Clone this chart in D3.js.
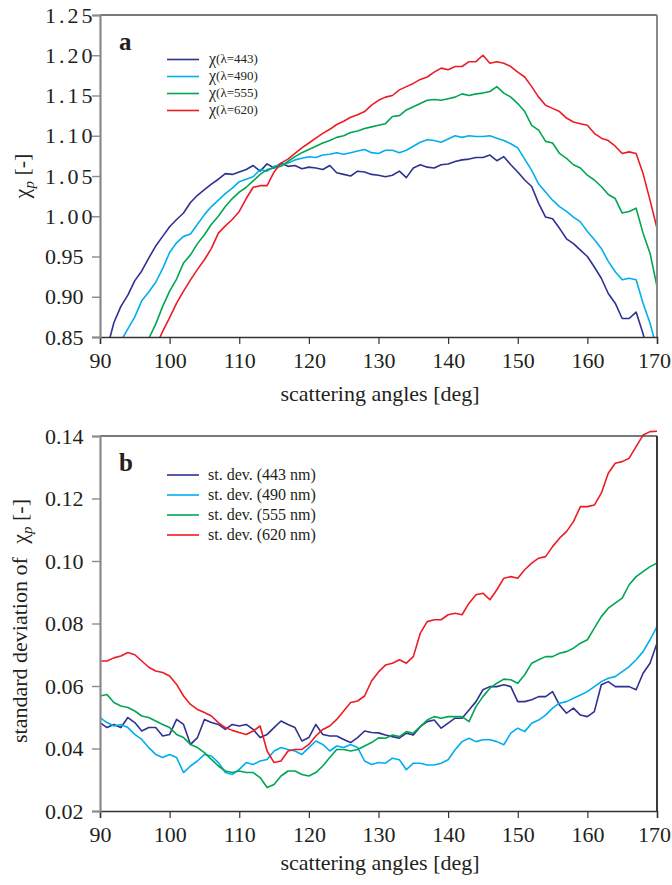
<!DOCTYPE html>
<html><head><meta charset="utf-8">
<script src="https://cdn.jsdelivr.net/npm/d3@7"></script>
<style>
html,body{margin:0;padding:0;background:#fff;}
svg text{font-family:"Liberation Serif","Times New Roman",serif;fill:#231f20;}
</style></head>
<body>
<svg id="chart" width="672" height="885"></svg>
<script>
// ---------- DATA ----------
const angles = [90,91,92,93,94,95,96,97,98,99,100,101,102,103,104,105,106,107,108,109,110,111,112,113,114,115,116,117,118,119,120,121,122,123,124,125,126,127,128,129,130,131,132,133,134,135,136,137,138,139,140,141,142,143,144,145,146,147,148,149,150,151,152,153,154,155,156,157,158,159,160,161,162,163,164,165,166,167,168,169,170];

// panel a: chi_p
const chi443 = [0.800,0.835,0.868,0.888,0.902,0.920,0.932,0.948,0.963,0.975,0.987,0.996,1.004,1.017,1.026,1.033,1.040,1.046,1.053,1.052,1.055,1.058,1.063,1.056,1.065,1.060,1.066,1.062,1.063,1.059,1.061,1.060,1.058,1.063,1.054,1.052,1.050,1.056,1.055,1.052,1.051,1.049,1.051,1.056,1.048,1.060,1.064,1.061,1.060,1.064,1.065,1.068,1.070,1.071,1.073,1.073,1.076,1.069,1.074,1.064,1.055,1.045,1.037,1.016,0.999,0.997,0.985,0.972,0.966,0.958,0.950,0.937,0.923,0.904,0.892,0.873,0.873,0.881,0.854,0.820,0.790];
const chi490 = [0.780,0.810,0.830,0.845,0.860,0.875,0.895,0.906,0.918,0.935,0.955,0.967,0.975,0.978,0.990,1.002,1.012,1.020,1.028,1.035,1.043,1.046,1.049,1.058,1.056,1.062,1.064,1.066,1.070,1.072,1.074,1.073,1.076,1.077,1.079,1.077,1.079,1.081,1.083,1.079,1.078,1.082,1.082,1.079,1.082,1.087,1.092,1.095,1.094,1.092,1.096,1.100,1.098,1.100,1.099,1.099,1.100,1.097,1.094,1.090,1.085,1.071,1.057,1.040,1.030,1.020,1.012,1.006,0.999,0.993,0.981,0.971,0.960,0.944,0.931,0.921,0.923,0.921,0.892,0.867,0.835];
const chi555 = [0.740,0.760,0.780,0.795,0.810,0.825,0.835,0.848,0.866,0.888,0.907,0.922,0.942,0.952,0.966,0.977,0.990,1.000,1.012,1.022,1.030,1.036,1.044,1.052,1.058,1.060,1.062,1.068,1.074,1.079,1.083,1.087,1.091,1.094,1.098,1.100,1.104,1.106,1.109,1.111,1.113,1.115,1.124,1.125,1.132,1.136,1.140,1.144,1.145,1.144,1.146,1.148,1.152,1.150,1.152,1.153,1.155,1.161,1.153,1.148,1.140,1.130,1.113,1.107,1.093,1.091,1.078,1.072,1.064,1.060,1.051,1.045,1.037,1.027,1.022,1.004,1.006,1.010,0.979,0.954,0.913];
const chi620 = [0.730,0.745,0.760,0.775,0.790,0.805,0.818,0.830,0.838,0.857,0.874,0.892,0.907,0.921,0.934,0.946,0.960,0.979,0.988,0.996,1.006,1.022,1.036,1.038,1.038,1.055,1.066,1.071,1.078,1.085,1.091,1.097,1.103,1.108,1.114,1.118,1.123,1.126,1.130,1.138,1.144,1.148,1.150,1.157,1.161,1.165,1.170,1.173,1.179,1.184,1.182,1.186,1.186,1.192,1.192,1.200,1.190,1.192,1.190,1.186,1.179,1.173,1.161,1.148,1.138,1.134,1.130,1.122,1.117,1.115,1.113,1.103,1.097,1.094,1.087,1.078,1.080,1.078,1.053,1.020,0.985];

// panel b: standard deviation of chi_p
const sd443 = [0.0483,0.0467,0.0477,0.0467,0.0499,0.0483,0.0456,0.0467,0.0467,0.0440,0.0445,0.0493,0.0477,0.0413,0.0435,0.0493,0.0483,0.0477,0.0461,0.0477,0.0472,0.0477,0.0461,0.0435,0.0445,0.0467,0.0488,0.0477,0.0467,0.0424,0.0435,0.0477,0.0445,0.0440,0.0440,0.0429,0.0419,0.0435,0.0456,0.0451,0.0450,0.0443,0.0438,0.0433,0.0449,0.0443,0.0470,0.0486,0.0491,0.0465,0.0481,0.0497,0.0497,0.0523,0.0550,0.0588,0.0598,0.0598,0.0604,0.0598,0.0550,0.0550,0.0556,0.0566,0.0566,0.0582,0.0539,0.0513,0.0529,0.0507,0.0502,0.0518,0.0604,0.0614,0.0598,0.0598,0.0598,0.0588,0.0641,0.0673,0.0737];
const sd490 = [0.0499,0.0483,0.0472,0.0477,0.0467,0.0445,0.0429,0.0403,0.0381,0.0371,0.0381,0.0371,0.0323,0.0344,0.0360,0.0381,0.0376,0.0355,0.0323,0.0317,0.0333,0.0355,0.0349,0.0360,0.0365,0.0392,0.0403,0.0397,0.0392,0.0381,0.0403,0.0424,0.0413,0.0392,0.0408,0.0403,0.0413,0.0403,0.0360,0.0349,0.0355,0.0353,0.0369,0.0364,0.0332,0.0353,0.0353,0.0347,0.0347,0.0353,0.0364,0.0396,0.0422,0.0433,0.0422,0.0428,0.0428,0.0422,0.0412,0.0449,0.0465,0.0454,0.0481,0.0491,0.0507,0.0529,0.0545,0.0550,0.0561,0.0571,0.0582,0.0598,0.0614,0.0625,0.0630,0.0646,0.0662,0.0684,0.0710,0.0748,0.0790];
const sd555 = [0.0568,0.0573,0.0547,0.0536,0.0531,0.0520,0.0504,0.0499,0.0488,0.0477,0.0467,0.0445,0.0435,0.0413,0.0403,0.0387,0.0365,0.0344,0.0328,0.0323,0.0328,0.0323,0.0323,0.0307,0.0275,0.0285,0.0312,0.0328,0.0328,0.0317,0.0312,0.0323,0.0344,0.0371,0.0397,0.0397,0.0392,0.0397,0.0408,0.0419,0.0434,0.0433,0.0443,0.0438,0.0454,0.0449,0.0470,0.0491,0.0502,0.0497,0.0502,0.0502,0.0502,0.0486,0.0534,0.0566,0.0593,0.0609,0.0622,0.0620,0.0609,0.0636,0.0673,0.0684,0.0694,0.0694,0.0705,0.0710,0.0721,0.0737,0.0748,0.0785,0.0822,0.0849,0.0865,0.0881,0.0924,0.0950,0.0966,0.0982,0.0993];
const sd620 = [0.0680,0.0680,0.0690,0.0696,0.0707,0.0700,0.0680,0.0660,0.0648,0.0643,0.0632,0.0605,0.0568,0.0541,0.0525,0.0515,0.0504,0.0483,0.0467,0.0458,0.0451,0.0445,0.0456,0.0472,0.0392,0.0355,0.0360,0.0392,0.0397,0.0397,0.0413,0.0440,0.0461,0.0472,0.0493,0.0520,0.0547,0.0552,0.0568,0.0616,0.0645,0.0667,0.0673,0.0684,0.0673,0.0694,0.0769,0.0806,0.0812,0.0812,0.0828,0.0833,0.0828,0.0865,0.0892,0.0897,0.0876,0.0908,0.0945,0.0950,0.0945,0.0972,0.0993,0.1009,0.1014,0.1046,0.1073,0.1094,0.1126,0.1174,0.1174,0.1179,0.1217,0.1281,0.1313,0.1318,0.1329,0.1366,0.1403,0.1414,0.1415];

const xTicks = [90,100,110,120,130,140,150,160,170];
const yTicksA = [0.85,0.90,0.95,1.00,1.05,1.10,1.15,1.20,1.25];
const yTicksB = [0.02,0.04,0.06,0.08,0.10,0.12,0.14];
const waves = ["443","490","555","620"];
const colors = ["#2e3192","#00aeef","#00a651","#ed1c24"];

// ---------- DRAW ----------
const svg = d3.select("#chart");
const X0 = 100, X1 = 657;
const FONT = "Liberation Serif, Times New Roman, serif";

function panel(cfg){
  const x = d3.scaleLinear().domain([90,170]).range([X0,X1]);
  const y = d3.scaleLinear().domain(cfg.yDomain).range([cfg.bottom,cfg.top]);
  const g = svg.append("g");
  const clipId = "clip"+cfg.id;
  svg.append("clipPath").attr("id",clipId).append("rect")
     .attr("x",X0).attr("y",cfg.top - cfg.clipExtra).attr("width",X1-X0).attr("height",cfg.bottom-cfg.top+cfg.clipExtra);

  const line = d3.line().x((d,i)=>x(angles[i])).y(d=>y(d)).defined(d=>d!=null);
  cfg.series.forEach((s,k)=>{
    g.append("path").datum(s).attr("d",line).attr("fill","none")
     .attr("stroke",colors[k]).attr("stroke-width",1.6).attr("stroke-linejoin","round")
     .attr("clip-path","url(#"+clipId+")");
  });

  g.append("line").attr("x1",X0).attr("x2",X1).attr("y1",cfg.top).attr("y2",cfg.top)
   .attr("stroke","#4d4d4d").attr("stroke-width",1.5);
  g.append("line").attr("x1",X1).attr("x2",X1).attr("y1",cfg.top).attr("y2",cfg.bottom)
   .attr("stroke",cfg.rightColor).attr("stroke-width",2);

  const xa = g.append("g").attr("transform",`translate(0,${cfg.bottom})`)
    .call(d3.axisBottom(x).tickValues(xTicks).tickSize(7).tickPadding(8).tickFormat(d3.format("d")));
  xa.attr("font-family",FONT);
  xa.select(".domain").attr("stroke","#333").attr("stroke-width",1.5);
  xa.selectAll(".tick line").attr("stroke","#333").attr("stroke-width",1.2);
  xa.selectAll(".tick text").attr("font-size",22).attr("font-family",FONT).attr("fill","#231f20")
    .attr("dx",d=> d===170 ? -3 : 0);

  const ya = g.append("g").attr("transform",`translate(${X0},0)`)
    .call(d3.axisLeft(y).tickValues(cfg.yTicks).tickSize(8).tickPadding(4).tickFormat(d3.format(".2f")));
  ya.attr("font-family",FONT);
  ya.select(".domain").attr("stroke","#8a8a8a").attr("stroke-width",2.2);
  ya.selectAll(".tick line").attr("stroke","#8a8a8a").attr("stroke-width",1.4);
  ya.selectAll(".tick text").attr("font-size",22).attr("font-family",FONT).attr("fill","#231f20")
    .attr("text-anchor","start").attr("x",-55)
    .attr("letter-spacing",d=> d>=1 ? 3 : 0);

  g.append("text").attr("x",380).attr("y",cfg.xTitleY).attr("text-anchor","middle")
   .attr("font-size",22).text("scattering angles [deg]");

  g.append("text").attr("x",119).attr("y",cfg.top+35).attr("font-size",25).attr("font-weight","bold").text(cfg.letter);

  return {x,y,g};
}

// Panel a
const A = panel({id:"a",top:15,bottom:337,yDomain:[0.85,1.25],yTicks:yTicksA,series:[chi443,chi490,chi555,chi620],
  rightColor:"#8a8a8a",xTitleY:401,letter:"a",clipExtra:0});
{
  const t = A.g.append("text").attr("transform","translate(29,176) rotate(-90)").attr("text-anchor","middle").attr("font-size",22);
  t.append("tspan").text("χ");
  t.append("tspan").attr("font-style","italic").attr("font-size",15).attr("dy",5).text("p");
  t.append("tspan").attr("dy",-5).text(" [-]");
}
waves.forEach((w,k)=>{
  const ly = 59.5 + k*17;
  A.g.append("line").attr("x1",167).attr("x2",199).attr("y1",ly).attr("y2",ly).attr("stroke",colors[k]).attr("stroke-width",1.6);
  const t = A.g.append("text").attr("x",209).attr("y",ly+4).attr("font-size",16);
  t.append("tspan").text("χ");
  t.append("tspan").attr("font-size",13).attr("dy",-1).text("(λ="+w+")");
});

// Panel b
const B = panel({id:"b",top:436,bottom:811,yDomain:[0.02,0.14],yTicks:yTicksB,series:[sd443,sd490,sd555,sd620],
  rightColor:"#3a3a3a",xTitleY:870,letter:"b",clipExtra:6});
{
  const t = B.g.append("text").attr("transform","translate(27,621) rotate(-90)").attr("text-anchor","middle").attr("font-size",22);
  t.append("tspan").text("standard deviation of ");
  t.append("tspan").attr("dx",8).text("χ");
  t.append("tspan").attr("font-style","italic").attr("font-size",15).attr("dy",5).text("p");
  t.append("tspan").attr("dy",-5).text(" [-]");
}
waves.forEach((w,k)=>{
  const ly = 475 + k*20;
  B.g.append("line").attr("x1",167).attr("x2",199).attr("y1",ly).attr("y2",ly).attr("stroke",colors[k]).attr("stroke-width",1.6);
  B.g.append("text").attr("x",208).attr("y",ly+5).attr("font-size",16).text("st. dev. ("+w+" nm)");
});
</script>
</body></html>
